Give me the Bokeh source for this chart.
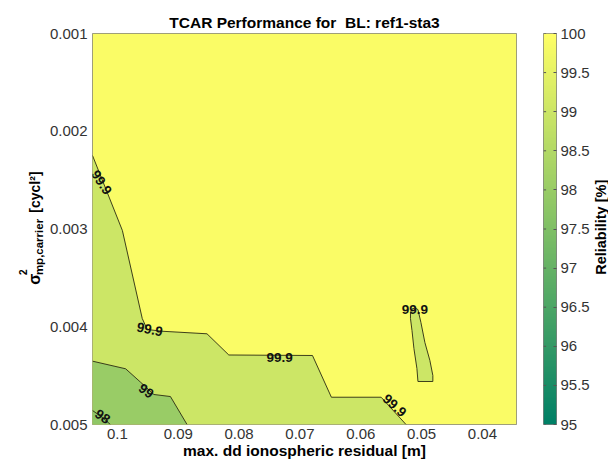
import numpy as np
from math import pi
from bokeh.plotting import figure
from bokeh.models import (Range1d, FixedTicker, CustomJSTickFormatter,
                          LinearColorMapper, ColumnDataSource)
from bokeh.core.properties import value
from bokeh.layouts import row
from bokeh.embed import file_html
from bokeh.resources import INLINE

# ---------------- data ----------------
title_text = "TCAR Performance for\u00a0 BL: ref1-sta3"
x_label = "max. dd ionospheric residual [m]"
cb_label = "Reliability [%]"
# y label: sigma^2_{mp,carrier} [cycl^2]
ylab_parts = ["σ", "2", "mp,carrier", "[cycl²]"]

x_ticks = [0.1, 0.09, 0.08, 0.07, 0.06, 0.05, 0.04]
y_ticks = [0.001, 0.002, 0.003, 0.004, 0.005]
cb_ticks = [95, 95.5, 96, 96.5, 97, 97.5, 98, 98.5, 99, 99.5, 100]

x_extent = [0.1041, 0.0344]      # max. dd ionospheric residual [m]
y_extent = [0.001, 0.005]        # sigma^2 mp,carrier [cycl^2]
c_extent = [95, 100]             # reliability colour scale [%]

levels = [98, 99, 99.9]
min_value = 97.8                 # lowest reliability in the corner region

# contour 99.9 (main boundary)
c999_x = [0.1041, 0.09919, 0.09592, 0.0951, 0.09265, 0.08528, 0.08169, 0.06794, 0.06483, 0.05665, 0.05256]
c999_y = [0.002248, 0.003015, 0.003916, 0.004028, 0.004046, 0.004072, 0.004289, 0.004294, 0.004721, 0.004721, 0.005]
# contour 99.9 (closed island)
isl_x = [0.05183, 0.05158, 0.05109, 0.0506, 0.05011, 0.04946, 0.04864, 0.04815, 0.04815, 0.0506, 0.05077, 0.05126, 0.05158, 0.05183]
isl_y = [0.003854, 0.003818, 0.003808, 0.003824, 0.003957, 0.004161, 0.004345, 0.004499, 0.00456, 0.00456, 0.004427, 0.004223, 0.004038, 0.003916]
# contour 99
c99_x = [0.1041, 0.09865, 0.0962, 0.09401, 0.09129, 0.08856]
c99_y = [0.004352, 0.00443, 0.004567, 0.004693, 0.004714, 0.005]
# contour 98
c98_x = [0.1041, 0.10246, 0.10116]
c98_y = [0.004857, 0.004928, 0.005]

# contour labels
lab_text = ["99.9", "99.9", "99.9", "99.9", "99.9", "99", "98"]
lab_x = [0.10263, 0.09469, 0.07334, 0.05445, 0.0511, 0.09527, 0.10246]
lab_y = [0.002524, 0.004028, 0.004315, 0.004806, 0.003824, 0.004657, 0.004918]
lab_angle = [-57, -12, 0, -42, 0, -35, -35]


def summer(v):
    t = (v - c_extent[0]) / (c_extent[1] - c_extent[0])
    r, g, b = t, 0.5 + 0.5 * t, 0.4
    return "#%02x%02x%02x" % (int(round(r * 255)), int(round(g * 255)), int(round(b * 255)))


col_top = summer(levels[2])
col_mid = summer(levels[1])
col_low = summer(levels[0])
col_min = summer(min_value)

FONT = "Liberation Sans"
TXT = "#333333"
H = 462
W_YL = 46
W_CB = 58
W_CL = 16
W_MAIN = 608 - W_YL - W_CB - W_CL


def text_panel(w):
    f = figure(width=w, height=H, x_range=Range1d(0, w), y_range=Range1d(H, 0),
               output_backend="svg", toolbar_location=None,
               x_axis_type=None, y_axis_type=None,
               min_border_left=0, min_border_right=0, min_border_top=0, min_border_bottom=0)
    f.outline_line_color = None
    f.grid.visible = False
    return f


# ---------------- y label panel ----------------
# lower group (sigma, superscript, subscript) grows upward from its start,
# the unit "[cycl²]" ends at its anchor
yl = text_panel(W_YL)
xb = 34
yl_src = ColumnDataSource(dict(
    t=ylab_parts,
    x=[xb, xb - 12, xb + 4, xb],
    y=[297, 285.5, 285.5, 163],
    s=["16px", "10px", "11.5px", "14px"],
    a=["left", "left", "left", "right"],
))
yl.text(x="x", y="y", text="t", text_font_size="s", text_align="a", source=yl_src,
        angle=pi / 2, text_font=value(FONT), text_font_style="bold",
        text_color="#000000", text_baseline="alphabetic")

# ---------------- main plot ----------------
p = figure(width=W_MAIN, height=H,
           x_range=Range1d(x_extent[0], x_extent[1]),
           y_range=Range1d(y_extent[1], y_extent[0]),
           output_backend="svg", toolbar_location=None,
           min_border_left=44, min_border_right=18,
           min_border_top=33, min_border_bottom=38)

p.title.text = title_text
p.title.align = "center"
p.title.text_font = FONT
p.title.text_font_size = "15.5px"
p.title.text_font_style = "bold"
p.title.text_color = "#000000"
p.title.standoff = 5

X0, X1 = x_extent
Y0, Y1 = y_extent

p.quad(left=[X0], right=[X1], top=[Y0], bottom=[Y1], fill_color=col_top, line_color=None)
p.patch(x=c999_x + [X0], y=c999_y + [Y1], fill_color=col_mid, line_color=None)
p.patch(x=isl_x, y=isl_y, fill_color=col_mid, line_color=None)
p.patch(x=c99_x + [X0], y=c99_y + [Y1], fill_color=col_low, line_color=None)
p.patch(x=c98_x + [X0], y=c98_y + [Y1], fill_color=col_min, line_color=None)

p.multi_line(xs=[c999_x, isl_x + [isl_x[0]], c99_x, c98_x],
             ys=[c999_y, isl_y + [isl_y[0]], c99_y, c98_y],
             line_color="#2a2a12", line_width=0.9)

src = ColumnDataSource(dict(x=lab_x, y=lab_y, t=lab_text,
                            a=[v * pi / 180 for v in lab_angle]))
p.text(x="x", y="y", text="t", angle="a", source=src,
       text_font=value(FONT), text_font_size="13.5px", text_font_style="bold",
       text_color="#111111", text_align="center", text_baseline="middle")

p.grid.visible = False
p.outline_line_color = "#808080"
p.outline_line_width = 1

for ax, ticks in ((p.xaxis[0], x_ticks), (p.yaxis[0], y_ticks)):
    ax.ticker = FixedTicker(ticks=ticks)
    ax.formatter = CustomJSTickFormatter(code="return parseFloat(tick.toFixed(6)).toString();")
    ax.major_label_text_font = FONT
    ax.major_label_text_font_size = "15px"
    ax.major_label_text_color = TXT
    ax.major_tick_line_color = None
    ax.minor_tick_line_color = None
    ax.axis_line_color = None
    ax.major_label_standoff = 5
    ax.major_tick_out = 0
    ax.major_tick_in = 0

xa = p.xaxis[0]
xa.major_label_standoff = 4
xa.axis_label = x_label
xa.axis_label_text_font = FONT
xa.axis_label_text_font_size = "15.5px"
xa.axis_label_text_font_style = "bold"
xa.axis_label_text_color = "#000000"
xa.axis_label_standoff = 0

# ---------------- colour bar ----------------
cb = figure(width=W_CB, height=H, x_range=Range1d(0, 1),
            y_range=Range1d(c_extent[0], c_extent[1]),
            output_backend="svg", toolbar_location=None,
            y_axis_location="right",
            min_border_left=9, min_border_right=34,
            min_border_top=33, min_border_bottom=38)
mapper = LinearColorMapper(palette=[summer(c_extent[0] + (c_extent[1] - c_extent[0]) * i / 255) for i in range(256)],
                           low=c_extent[0], high=c_extent[1])
grad = np.linspace(c_extent[0], c_extent[1], 256).reshape(256, 1)
cb.image(image=[grad], x=0, y=c_extent[0], dw=1, dh=c_extent[1] - c_extent[0], color_mapper=mapper)
cb.segment(x0=[0] * len(cb_ticks), x1=[0.2] * len(cb_ticks), y0=cb_ticks, y1=cb_ticks,
           line_color="#555555", line_width=1)
cb.xaxis.visible = False
cb.grid.visible = False
cb.outline_line_color = "#808080"

ra = cb.yaxis[0]
ra.ticker = FixedTicker(ticks=cb_ticks)
ra.formatter = CustomJSTickFormatter(code="return parseFloat(tick.toFixed(3)).toString();")
ra.major_label_text_font = FONT
ra.major_label_text_font_size = "15px"
ra.major_label_text_color = TXT
ra.major_tick_in = 3
ra.major_tick_out = 0
ra.major_tick_line_color = "#555555"
ra.minor_tick_line_color = None
ra.axis_line_color = None
ra.major_label_standoff = 4

# ---------------- colour bar label ----------------
cl = text_panel(W_CL)
cl.text(x=[8.5], y=[229], text=[cb_label], angle=pi / 2,
        text_font=value(FONT), text_font_size="14.5px", text_font_style="bold",
        text_color="#000000", text_align="center", text_baseline="alphabetic")

layout = row(yl, p, cb, cl)
open("out.html", "w").write(file_html(layout, INLINE))
